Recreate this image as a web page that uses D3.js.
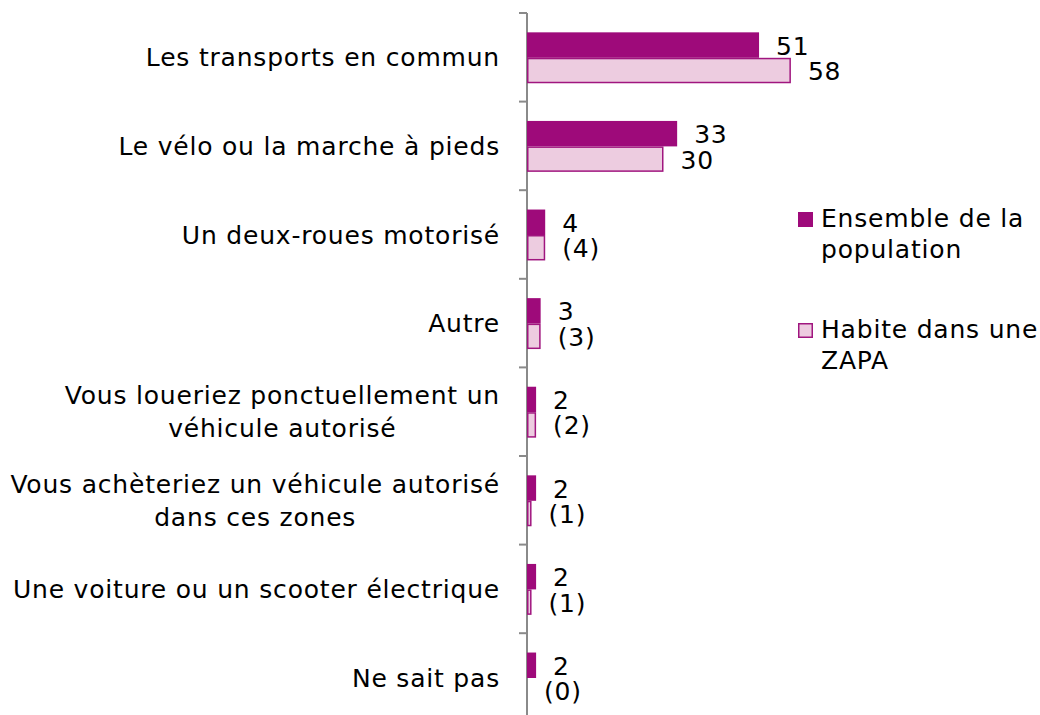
<!DOCTYPE html>
<html>
<head>
<meta charset="utf-8">
<script src="https://cdn.jsdelivr.net/npm/d3@7"></script>
<style>
  html, body { margin: 0; padding: 0; background: #fff; }
  svg { display: block; }
  text { font-family: "DejaVu Sans", Verdana, sans-serif; fill: #000; letter-spacing: 0.8px; }
</style>
</head>
<body>
<svg id="chart" width="1040" height="715"></svg>
<script>
// Categories (each entry is a list of label lines)
const categories = [
  ["Les transports en commun"],
  ["Le vélo ou la marche à pieds"],
  ["Un deux-roues motorisé"],
  ["Autre"],
  ["Vous loueriez ponctuellement un", "véhicule autorisé"],
  ["Vous achèteriez un véhicule autorisé", "dans ces zones"],
  ["Une voiture ou un scooter électrique"],
  ["Ne sait pas"]
];
const seriesNames = ["Ensemble de la population", "Habite dans une ZAPA"];
const legendLines = [["Ensemble de la", "population"], ["Habite dans une", "ZAPA"]];
const ensemble = [51, 33, 4, 3, 2, 2, 2, 2];
const zapa = [58, 30, 4, 3, 2, 1, 1, 0];
// ZAPA figures for small sub-samples are shown in parentheses
const zapaLabels = ["58", "30", "(4)", "(3)", "(2)", "(1)", "(1)", "(0)"];

const colors = { dark: "#9E0A7A", light: "#EDCCE0", lightStroke: "#A0167F" };
const fontSize = 25;

const svg = d3.select("#chart");
const keys = categories.map((c, i) => i);

const axisX = 527;
const y = d3.scaleBand().domain(keys).range([13, 13 + 8 * 88.6]).padding(0);
const ySub = d3.scaleBand().domain([0, 1]).range([0, y.bandwidth()])
  .paddingInner(0).paddingOuter(0.74);
const x = d3.scaleLinear().domain([0, 60]).range([axisX, axisX + 273]);

const rows = keys.map(i => [
  { s: 0, v: ensemble[i], label: String(ensemble[i]) },
  { s: 1, v: zapa[i], label: zapaLabels[i] }
]);

// Axis: vertical line with ticks at category boundaries
const axisG = svg.append("g");
const bounds = keys.map(i => y(i)).concat([y(keys[keys.length - 1]) + y.bandwidth()]);
axisG.append("line")
  .attr("x1", axisX).attr("x2", axisX)
  .attr("y1", bounds[0]).attr("y2", bounds[bounds.length - 1])
  .attr("stroke", "#8a8a8a").attr("stroke-width", 2);
axisG.selectAll("line.tick").data(bounds).join("line")
  .attr("class", "tick")
  .attr("x1", axisX - 8).attr("x2", axisX)
  .attr("y1", d => d).attr("y2", d => d)
  .attr("stroke", "#8a8a8a").attr("stroke-width", 2);

// Bars
const groups = svg.append("g").selectAll("g").data(keys).join("g")
  .attr("transform", i => `translate(0,${y(i) + 0.5})`);

groups.selectAll("rect").data(i => rows[i]).join("rect")
  .attr("x", d => x(0) + (d.s === 1 ? 0.75 : 0))
  .attr("y", d => ySub(d.s) + (d.s === 1 ? 0.75 : 0))
  .attr("width", d => Math.max(0, x(d.v) - x(0) - (d.s === 1 ? 1.5 : 0)))
  .attr("height", d => ySub.bandwidth() - (d.s === 1 ? 1.5 : 0))
  .attr("fill", d => d.s === 0 ? colors.dark : colors.light)
  .attr("stroke", d => d.s === 0 ? "none" : colors.lightStroke)
  .attr("stroke-width", 1.5);

// Value labels
groups.selectAll("text.val").data(i => rows[i]).join("text")
  .attr("class", "val")
  .attr("x", d => x(d.v) + 17)
  .attr("y", d => ySub(d.s) + ySub.bandwidth() / 2)
  .attr("dy", "0.38em")
  .style("font-size", fontSize + "px")
  .text(d => d.label);

// Category labels: block right-aligned, lines centred within it
const lineH = 33;
const catG = svg.append("g");
keys.forEach(i => {
  const lines = categories[i];
  const cy = y(i) + y.bandwidth() / 2;
  const g = catG.append("g");
  const texts = lines.map((ln, k) => g.append("text")
    .style("font-size", fontSize + "px")
    .attr("text-anchor", "middle")
    .attr("y", cy + (k - (lines.length - 1) / 2) * lineH)
    .attr("dy", "0.36em")
    .text(ln));
  const maxW = d3.max(texts, t => t.node().getComputedTextLength());
  texts.forEach(t => t.attr("x", 500 - maxW / 2));
});

// Legend
const legend = svg.append("g");
const legendY = [212, 323];
legendLines.forEach((lines, k) => {
  legend.append("rect")
    .attr("x", 798.75 + (k ? 0 : -0.75)).attr("y", legendY[k] + (k ? 0.75 : 0))
    .attr("width", k ? 13.5 : 15).attr("height", k ? 13.5 : 15)
    .attr("fill", k ? colors.light : colors.dark)
    .attr("stroke", k ? colors.lightStroke : "none")
    .attr("stroke-width", 1.5);
  lines.forEach((ln, j) => {
    legend.append("text")
      .attr("x", 821)
      .attr("y", legendY[k] + 15 + j * 31)
      .style("font-size", fontSize + "px")
      .text(ln);
  });
});
</script>
</body>
</html>
